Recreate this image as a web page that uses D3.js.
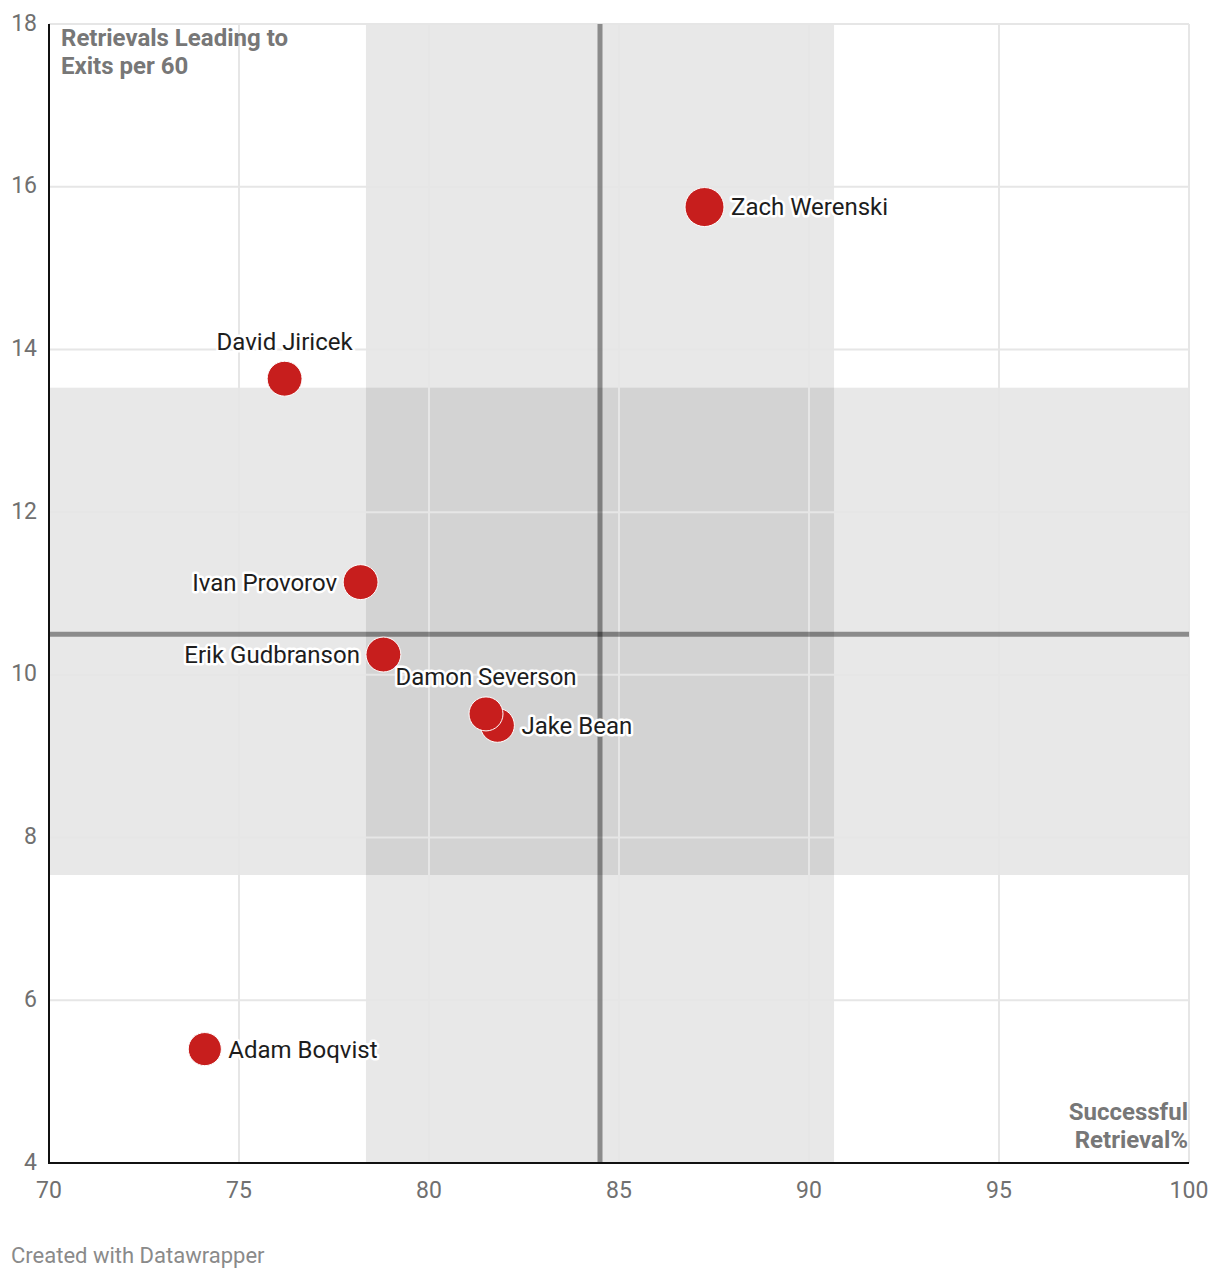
<!DOCTYPE html>
<html>
<head>
<meta charset="utf-8">
<script src="https://cdn.jsdelivr.net/npm/d3@7"></script>
<style>
  html, body { margin: 0; padding: 0; background: #fff; }
  svg { display: block; font-family: Roboto, "Noto Sans", sans-serif; }
</style>
</head>
<body>
<svg id="chart" width="1220" height="1280"></svg>
<script>
// ---- data ----
const players = ["Zach Werenski", "David Jiricek", "Ivan Provorov", "Erik Gudbranson", "Damon Severson", "Jake Bean", "Adam Boqvist"];
const successPct = [87.25, 76.2, 78.2, 78.8, 81.5, 81.8, 74.1];
const exitsPer60 = [15.75, 13.64, 11.14, 10.25, 9.52, 9.38, 5.40];
const sizeValues = [100, 80, 80, 80, 76, 76, 72];
const labelPos = ["right", "top", "left", "left", "top", "right", "right"];
const xTicks = [70, 75, 80, 85, 90, 95, 100];
const yTicks = [4, 6, 8, 10, 12, 14, 16, 18];
const xBand = [78.34, 90.66];
const yBand = [7.54, 13.53];
const xMean = 84.5;
const yMean = 10.5;

// ---- layout ----
const svg = d3.select("#chart");
const L = 49, R = 1189, T = 24, B = 1163;
const x = d3.scaleLinear().domain([70, 100]).range([L, R]);
const y = d3.scaleLinear().domain([4, 18]).range([B, T]);
const r = d3.scaleSqrt().domain([0, 100]).range([0, 19.5]);

// bands
svg.append("rect")
  .attr("x", x(xBand[0])).attr("y", T)
  .attr("width", x(xBand[1]) - x(xBand[0])).attr("height", B - T)
  .attr("fill", "#000").attr("fill-opacity", 0.09);
svg.append("rect")
  .attr("x", L).attr("y", y(yBand[1]))
  .attr("width", R - L).attr("height", y(yBand[0]) - y(yBand[1]))
  .attr("fill", "#000").attr("fill-opacity", 0.09);

// gridlines
const grid = svg.append("g");
grid.selectAll(".gx").data(xTicks.filter(d => d > 70)).join("line")
  .attr("x1", d => x(d)).attr("x2", d => x(d))
  .attr("y1", T).attr("y2", B)
  .attr("stroke", "#e6e6e6").attr("stroke-width", 2);
grid.selectAll(".gy").data(yTicks.filter(d => d > 4)).join("line")
  .attr("x1", L).attr("x2", R)
  .attr("y1", d => y(d)).attr("y2", d => y(d))
  .attr("stroke", "#e6e6e6").attr("stroke-width", 2);

// mean lines
svg.append("line")
  .attr("x1", x(xMean)).attr("x2", x(xMean)).attr("y1", T).attr("y2", B)
  .attr("stroke", "#000").attr("stroke-opacity", 0.4).attr("stroke-width", 5);
svg.append("line")
  .attr("x1", L).attr("x2", R).attr("y1", y(yMean)).attr("y2", y(yMean))
  .attr("stroke", "#000").attr("stroke-opacity", 0.4).attr("stroke-width", 5);

// axes lines
svg.append("line").attr("x1", L).attr("x2", L).attr("y1", T).attr("y2", B + 1)
  .attr("stroke", "#111").attr("stroke-width", 2);
svg.append("line").attr("x1", L - 1).attr("x2", R).attr("y1", B).attr("y2", B)
  .attr("stroke", "#111").attr("stroke-width", 2);

// tick labels
svg.append("g").selectAll("text").data(yTicks).join("text")
  .attr("x", 37).attr("y", d => y(d) - 1)
  .attr("text-anchor", "end").attr("dominant-baseline", "central")
  .attr("font-size", 23).attr("fill", "#707070")
  .text(d => d);
svg.append("g").selectAll("text").data(xTicks).join("text")
  .attr("x", d => x(d)).attr("y", 1198)
  .attr("text-anchor", "middle")
  .attr("font-size", 23).attr("fill", "#707070")
  .text(d => d);

// axis titles
const yt = svg.append("text").attr("font-size", 24).attr("font-weight", 700).attr("fill", "#777");
yt.append("tspan").attr("x", 61).attr("y", 46).text("Retrievals Leading to");
yt.append("tspan").attr("x", 61).attr("y", 74).text("Exits per 60");
const xt = svg.append("text").attr("font-size", 24).attr("font-weight", 700).attr("fill", "#777").attr("text-anchor", "end");
xt.append("tspan").attr("x", 1188).attr("y", 1120).text("Successful");
xt.append("tspan").attr("x", 1188).attr("y", 1148).text("Retrieval%");

// points
const data = players.map((p, i) => ({ name: p, x: successPct[i], y: exitsPer60[i], s: sizeValues[i], pos: labelPos[i] }));
const drawOrder = [0, 1, 2, 3, 5, 4, 6].map(i => data[i]);
svg.append("g").selectAll("circle").data(drawOrder).join("circle")
  .attr("cx", d => x(d.x)).attr("cy", d => y(d.y)).attr("r", d => r(d.s))
  .attr("fill", "#c71e1d").attr("stroke", "#fff").attr("stroke-width", 1);

// labels
svg.append("g").selectAll("text").data(data).join("text")
  .attr("x", d => {
    const cx = x(d.x), rr = r(d.s);
    if (d.pos === "right") return cx + rr + 7;
    if (d.pos === "left") return cx - rr - 6;
    return cx;
  })
  .attr("y", d => d.pos === "top" ? y(d.y) - 29 : y(d.y))
  .attr("dy", d => d.pos === "top" ? 0 : "0.35em")
  .attr("text-anchor", d => d.pos === "right" ? "start" : d.pos === "left" ? "end" : "middle")
  .attr("font-size", 24).attr("fill", "#1d1d1d")
  .attr("stroke", "#fff").attr("stroke-width", 5).attr("stroke-linejoin", "round")
  .attr("paint-order", "stroke")
  .text(d => d.name);

// footer
svg.append("text").attr("x", 11).attr("y", 1263)
  .attr("font-size", 22).attr("fill", "#8a8a8a")
  .text("Created with Datawrapper");
</script>
</body>
</html>
